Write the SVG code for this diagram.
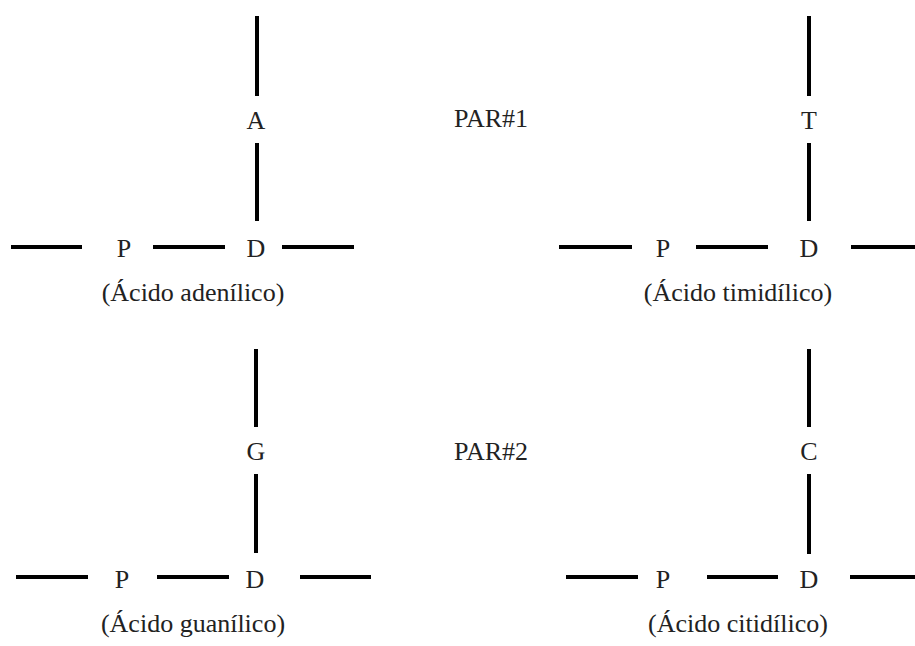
<svg xmlns="http://www.w3.org/2000/svg" width="915" height="646" viewBox="0 0 915 646">
  <style>
    text { font-family: "Liberation Serif", "DejaVu Serif", serif; font-size: 26px; fill: #222; text-anchor: middle; }
    .bond { stroke: #000; stroke-width: 4; fill: none; }
  </style>
  <rect width="915" height="646" fill="#fff"/>

  <!-- bonds between units -->
  <g id="connectors">
    <!-- adenylic acid -->
    <line class="bond" x1="257" y1="16" x2="257" y2="96"/>
    <line class="bond" x1="257" y1="143" x2="257" y2="221"/>
    <line class="bond" x1="11" y1="247" x2="82" y2="247"/>
    <line class="bond" x1="153" y1="247" x2="225" y2="247"/>
    <line class="bond" x1="282" y1="247" x2="354" y2="247"/>
    <!-- thymidylic acid -->
    <line class="bond" x1="809" y1="16" x2="809" y2="96"/>
    <line class="bond" x1="809" y1="143" x2="809" y2="221"/>
    <line class="bond" x1="559" y1="247" x2="632" y2="247"/>
    <line class="bond" x1="696" y1="247" x2="768" y2="247"/>
    <line class="bond" x1="851" y1="247" x2="915" y2="247"/>
    <!-- guanylic acid -->
    <line class="bond" x1="256" y1="349" x2="256" y2="427"/>
    <line class="bond" x1="256" y1="474" x2="256" y2="553"/>
    <line class="bond" x1="16" y1="577" x2="88" y2="577"/>
    <line class="bond" x1="157" y1="577" x2="229" y2="577"/>
    <line class="bond" x1="300" y1="577" x2="371" y2="577"/>
    <!-- cytidylic acid -->
    <line class="bond" x1="809" y1="349" x2="809" y2="427"/>
    <line class="bond" x1="809" y1="474" x2="809" y2="554"/>
    <line class="bond" x1="566" y1="577" x2="638" y2="577"/>
    <line class="bond" x1="707" y1="577" x2="778" y2="577"/>
    <line class="bond" x1="850" y1="577" x2="915" y2="577"/>
  </g>

  <g id="base-A"><text x="256" y="129">A</text></g>
  <g id="phosphate-A"><text x="124" y="257">P</text></g>
  <g id="sugar-A"><text x="256" y="257">D</text></g>
  <g id="label-A"><text x="193" y="301">(Ácido adenílico)</text></g>

  <g id="pair-1"><text x="491" y="127">PAR#1</text></g>

  <g id="base-T"><text x="809" y="129">T</text></g>
  <g id="phosphate-T"><text x="663" y="257">P</text></g>
  <g id="sugar-T"><text x="809" y="257">D</text></g>
  <g id="label-T"><text x="738" y="301">(Ácido timidílico)</text></g>

  <g id="base-G"><text x="256" y="460">G</text></g>
  <g id="phosphate-G"><text x="122" y="588">P</text></g>
  <g id="sugar-G"><text x="255" y="588">D</text></g>
  <g id="label-G"><text x="193" y="632">(Ácido guanílico)</text></g>

  <g id="pair-2"><text x="491" y="460">PAR#2</text></g>

  <g id="base-C"><text x="809" y="460">C</text></g>
  <g id="phosphate-C"><text x="663" y="588">P</text></g>
  <g id="sugar-C"><text x="809" y="588">D</text></g>
  <g id="label-C"><text x="738" y="632">(Ácido citidílico)</text></g>
</svg>
